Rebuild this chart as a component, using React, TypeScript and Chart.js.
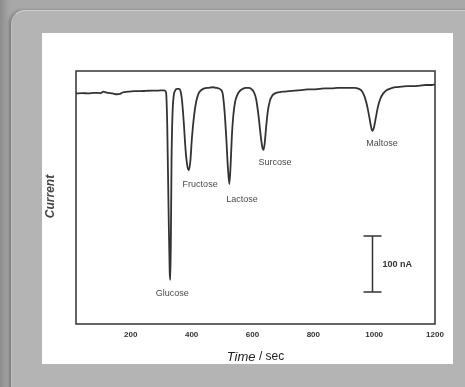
import React, { useEffect, useRef } from "react";
import { Chart, registerables } from "chart.js";

Chart.register(...registerables);

const times = [20, 40, 60, 80, 100, 110, 120, 140, 155, 165, 175, 190, 210, 230, 250, 270, 290, 305, 312, 316, 320, 324, 328, 330, 332, 334, 337, 341, 346, 352, 358, 363, 368, 374, 380, 386, 391, 396, 401, 408, 415, 423, 432, 442, 455, 470, 480, 488, 495, 502, 508, 514, 519, 524, 528, 532, 537, 543, 550, 558, 568, 578, 588, 596, 604, 612, 620, 627, 632, 636, 640, 645, 651, 658, 665, 674, 685, 700, 720, 740, 760, 780, 800, 820, 840, 860, 880, 900, 920, 935, 950, 960, 970, 978, 985, 990, 994, 999, 1005, 1012, 1020, 1030, 1042, 1055, 1070, 1090, 1110, 1130, 1150, 1170, 1190, 1200];
const current = [0, 0.5, 0, 1, 0.5, 3, 1.5, 0, -1.5, -1, 2, 3, 4, 4, 4.5, 5, 5, 5.5, 5, 2, -60, -200, -320, -333, -250, -120, -40, -5, 5, 8, 8, 5, -10, -50, -100, -130, -137, -120, -80, -40, -15, 0, 6, 9, 10, 11, 10, 9, 7, 0, -30, -80, -130, -162, -130, -80, -40, -15, -3, 4, 8, 10, 10, 8, 3, -10, -40, -75, -95, -101, -90, -60, -30, -12, -4, 0, 2, 3, 4, 5, 6, 7, 7, 8, 9, 9, 10, 10, 10, 10, 8, 4, -8, -25, -45, -60, -67, -62, -45, -25, -10, 0, 6, 9, 11, 12, 13, 13, 14, 15, 15, 16];

const xTicks = [200, 400, 600, 800, 1000, 1200];
const peakNames = ["Glucose", "Fructose", "Lactose", "Surcose", "Maltose"];
const peakLabelT = [336, 428, 566, 674, 1026];
const peakLabelV = [-357, -162, -189, -124, -90];
const scaleBarT = 993;
const scaleBarFrom = -255;
const scaleBarTo = -355;
const scaleBarLabel = "100 nA";
const xTitleItalic = "Time";
const xTitleRest = " / sec";
const yTitle = "Current";

const FONT = "'Liberation Sans', Arial, sans-serif";

export default function App() {
  const ref = useRef<HTMLCanvasElement | null>(null);
  useEffect(() => {
    if (!ref.current) return;
    const overlay = {
      id: "overlay",
      afterDatasetsDraw(chart: any) {
        const { ctx, chartArea, scales } = chart;
        const x = scales.x;
        const y = scales.y;
        ctx.save();
        ctx.strokeStyle = "#333";
        ctx.lineWidth = 1.5;
        ctx.strokeRect(chartArea.left, chartArea.top, chartArea.right - chartArea.left, chartArea.bottom - chartArea.top);
        ctx.fillStyle = "#4a4a4a";
        ctx.font = `9px ${FONT}`;
        ctx.textAlign = "center";
        ctx.textBaseline = "middle";
        peakNames.forEach((n, i) => {
          ctx.fillText(n, x.getPixelForValue(peakLabelT[i]), y.getPixelForValue(peakLabelV[i]));
        });
        const bx = Math.round(x.getPixelForValue(scaleBarT)) + 0.5;
        const y1 = y.getPixelForValue(scaleBarFrom);
        const y2 = y.getPixelForValue(scaleBarTo);
        ctx.strokeStyle = "#333";
        ctx.lineWidth = 1.5;
        ctx.beginPath();
        ctx.moveTo(bx, y1);
        ctx.lineTo(bx, y2);
        ctx.moveTo(bx - 9, y1);
        ctx.lineTo(bx + 9, y1);
        ctx.moveTo(bx - 9, y2);
        ctx.lineTo(bx + 9, y2);
        ctx.stroke();
        ctx.fillStyle = "#333";
        ctx.font = `bold 9px ${FONT}`;
        ctx.textAlign = "left";
        ctx.fillText(scaleBarLabel, bx + 10, (y1 + y2) / 2);
        ctx.font = `italic 13px ${FONT}`;
        const w1 = ctx.measureText(xTitleItalic).width;
        ctx.font = `12px ${FONT}`;
        const w2 = ctx.measureText(xTitleRest).width;
        const cx = (chartArea.left + chartArea.right) / 2;
        const ty = chartArea.bottom + 33;
        const sx = cx - (w1 + w2) / 2;
        ctx.fillStyle = "#222";
        ctx.font = `italic 13px ${FONT}`;
        ctx.fillText(xTitleItalic, sx, ty);
        ctx.font = `12px ${FONT}`;
        ctx.fillText(xTitleRest, sx + w1, ty);
        ctx.translate(9, (chartArea.top + chartArea.bottom) / 2 - 1);
        ctx.rotate(-Math.PI / 2);
        ctx.textAlign = "center";
        ctx.fillStyle = "#444";
        ctx.font = `italic bold 12px ${FONT}`;
        ctx.fillText(yTitle, 0, 0);
        ctx.restore();
      },
    };
    const chart = new Chart(ref.current, {
      type: "line",
      data: {
        datasets: [
          {
            data: times.map((t, i) => ({ x: t, y: current[i] })),
            borderColor: "#333",
            borderWidth: 1.8,
            pointRadius: 0,
            cubicInterpolationMode: "monotone",
            fill: false,
          },
        ],
      },
      options: {
        animation: false,
        responsive: false,
        maintainAspectRatio: false,
        layout: { padding: { left: 34, right: 18, top: 38, bottom: 24 } },
        plugins: { legend: { display: false }, tooltip: { enabled: false } },
        scales: {
          x: {
            type: "linear",
            min: 20,
            max: 1200,
            grid: { display: false, drawTicks: false },
            border: { display: false },
            afterBuildTicks: (axis: any) => {
              axis.ticks = xTicks.map((v) => ({ value: v }));
            },
            afterFit: (axis: any) => {
              axis.height = 16;
            },
            ticks: {
              padding: 6,
              color: "#333",
              maxRotation: 0,
              callback: (v: any) => String(v),
              font: { family: FONT, size: 8, weight: "bold" },
            },
          },
          y: {
            display: false,
            min: -412,
            max: 40,
          },
        },
      },
      plugins: [overlay],
    });
    return () => chart.destroy();
  }, []);

  return (
    <div style={{ position: "fixed", left: 0, top: 0, width: 465, height: 387, background: "linear-gradient(to right, #8c8c8c 0px, #a3a3a3 8px, #a8a8a8 12px)", overflow: "hidden" }}>
      <div style={{ position: "absolute", left: 11, top: 10, width: 470, height: 400, background: "#b4b4b4", borderTopLeftRadius: 14, borderTop: "1px solid #cfcfcf", borderLeft: "1px solid #bdbdbd", boxShadow: "-2px 0 3px rgba(0,0,0,0.25)" }} />
      <div style={{ position: "absolute", left: 42, top: 33, width: 411, height: 331, background: "#fff" }}>
        <canvas ref={ref} width={411} height={331} style={{ display: "block", width: 411, height: 331 }} />
      </div>
    </div>
  );
}
